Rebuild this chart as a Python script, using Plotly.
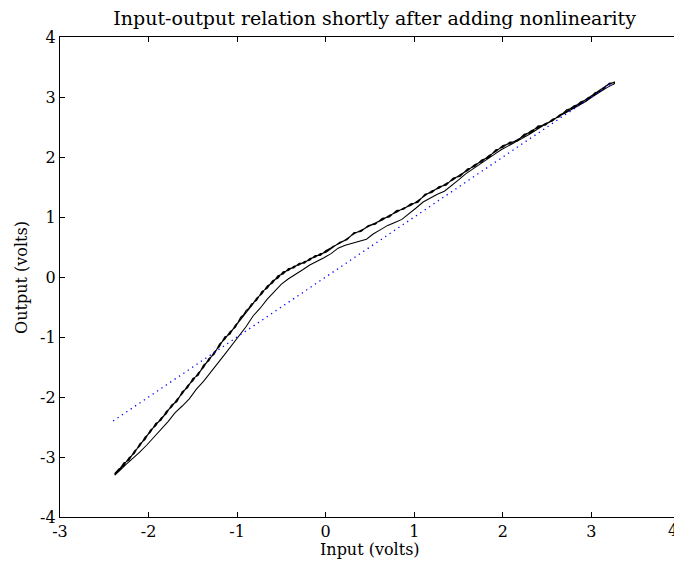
import plotly.graph_objects as go

# Upper branch (traversed several times, slightly different passes)
upper_x = [-2.38, -2.33, -2.28, -2.22, -2.16, -2.10, -2.04, -1.98, -1.92, -1.86, -1.80, -1.74, -1.68,
           -1.62, -1.56, -1.50, -1.44, -1.38, -1.32, -1.26, -1.20, -1.14, -1.08, -1.02, -0.96, -0.90,
           -0.84, -0.78, -0.72, -0.66, -0.60, -0.54, -0.48, -0.42, -0.36, -0.30, -0.24, -0.18, -0.12,
           -0.06, 0.00, 0.08, 0.16, 0.24, 0.32, 0.40, 0.48, 0.56, 0.64, 0.72, 0.80, 0.88, 0.96, 1.04,
           1.12, 1.20, 1.28, 1.36, 1.44, 1.52, 1.60, 1.68, 1.76, 1.84, 1.92, 2.00, 2.08, 2.16, 2.24,
           2.32, 2.40, 2.48, 2.56, 2.64, 2.72, 2.80, 2.88, 2.96, 3.04, 3.12, 3.20, 3.26]
upper_a_y = [-3.28, -3.22, -3.12, -3.03, -2.92, -2.80, -2.69, -2.57, -2.46, -2.38, -2.26, -2.15, -2.06,
             -1.93, -1.83, -1.71, -1.62, -1.49, -1.38, -1.27, -1.14, -1.02, -0.93, -0.82, -0.69, -0.58,
             -0.47, -0.37, -0.26, -0.17, -0.08, 0.00, 0.07, 0.12, 0.16, 0.21, 0.24, 0.29, 0.34,
             0.37, 0.42, 0.51, 0.56, 0.64, 0.72, 0.78, 0.84, 0.89, 0.96, 1.02, 1.09, 1.14, 1.20, 1.26,
             1.36, 1.43, 1.49, 1.55, 1.63, 1.70, 1.78, 1.86, 1.93, 2.01, 2.10, 2.18, 2.23, 2.28, 2.36,
             2.43, 2.50, 2.55, 2.61, 2.69, 2.77, 2.84, 2.90, 2.98, 3.05, 3.13, 3.22, 3.24]
upper_b_y = [-3.27, -3.19, -3.14, -3.01, -2.94, -2.78, -2.71, -2.55, -2.48, -2.35, -2.28, -2.13, -2.08,
             -1.91, -1.85, -1.69, -1.64, -1.47, -1.40, -1.25, -1.16, -1.00, -0.95, -0.80, -0.71, -0.56,
             -0.49, -0.35, -0.28, -0.15, -0.10, 0.02, 0.05, 0.14, 0.15, 0.23, 0.23, 0.31, 0.33,
             0.39, 0.41, 0.49, 0.58, 0.62, 0.74, 0.76, 0.86, 0.88, 0.98, 1.00, 1.11, 1.13, 1.22, 1.24,
             1.38, 1.41, 1.51, 1.53, 1.65, 1.68, 1.80, 1.84, 1.95, 1.99, 2.12, 2.16, 2.25, 2.26, 2.38,
             2.41, 2.52, 2.53, 2.63, 2.67, 2.79, 2.82, 2.92, 2.96, 3.07, 3.11, 3.23, 3.24]
upper_c_y = [-3.29, -3.21, -3.10, -3.05, -2.90, -2.82, -2.67, -2.59, -2.44, -2.39, -2.24, -2.17, -2.04,
             -1.95, -1.81, -1.73, -1.60, -1.51, -1.36, -1.29, -1.12, -1.04, -0.91, -0.84, -0.67, -0.60,
             -0.45, -0.39, -0.24, -0.19, -0.06, -0.02, 0.09, 0.11, 0.18, 0.20, 0.26, 0.28, 0.36,
             0.36, 0.44, 0.50, 0.57, 0.63, 0.73, 0.77, 0.85, 0.90, 0.95, 1.03, 1.08, 1.15, 1.19, 1.27,
             1.35, 1.44, 1.48, 1.56, 1.62, 1.71, 1.77, 1.87, 1.92, 2.02, 2.09, 2.19, 2.22, 2.29, 2.35,
             2.44, 2.49, 2.56, 2.60, 2.70, 2.76, 2.85, 2.89, 2.99, 3.04, 3.14, 3.21, 3.25]

# Lower branch (returning from the top)
lower_x = [3.26, 3.18, 3.10, 3.02, 2.94, 2.86, 2.78, 2.70, 2.62, 2.54, 2.46, 2.38, 2.30, 2.22, 2.14,
           2.06, 1.98, 1.90, 1.82, 1.74, 1.66, 1.58, 1.50, 1.42, 1.34, 1.26, 1.18, 1.10, 1.02, 0.94,
           0.86, 0.78, 0.70, 0.62, 0.54, 0.46, 0.38, 0.30, 0.22, 0.14, 0.06, -0.02, -0.10, -0.18,
           -0.26, -0.34, -0.42, -0.50, -0.58, -0.66, -0.74, -0.82, -0.90, -0.98, -1.06, -1.14, -1.22,
           -1.30, -1.38, -1.46, -1.54, -1.62, -1.70, -1.78, -1.86, -1.94, -2.02, -2.10, -2.18, -2.26,
           -2.32, -2.38]
lower_y = [3.22, 3.16, 3.09, 3.01, 2.93, 2.86, 2.80, 2.73, 2.67, 2.59, 2.53, 2.45, 2.38, 2.31, 2.25,
           2.18, 2.12, 2.04, 1.96, 1.87, 1.79, 1.72, 1.62, 1.53, 1.43, 1.38, 1.31, 1.25, 1.15, 1.06,
           0.96, 0.91, 0.86, 0.79, 0.72, 0.63, 0.60, 0.57, 0.53, 0.48, 0.39, 0.32, 0.26, 0.20,
           0.12, 0.05, -0.03, -0.12, -0.24, -0.37, -0.52, -0.65, -0.83, -0.98, -1.12, -1.29, -1.44,
           -1.60, -1.74, -1.87, -2.03, -2.15, -2.26, -2.41, -2.54, -2.68, -2.80, -2.92, -3.02, -3.13,
           -3.22, -3.30]

# Linear reference
ref_x = [-2.40, 3.25]
ref_y = [-2.40, 3.25]

x_ticks = [-3, -2, -1, 0, 1, 2, 3, 4]
y_ticks = [-4, -3, -2, -1, 0, 1, 2, 3, 4]

path_x = upper_x + lower_x + upper_x + upper_x[::-1]
path_y = upper_a_y + lower_y + upper_b_y + upper_c_y[::-1]

font = "DejaVu Serif"

fig = go.Figure()
fig.add_trace(go.Scatter(x=path_x, y=path_y, mode="lines",
                         line=dict(color="black", width=1.05),
                         showlegend=False, hoverinfo="skip"))
fig.add_trace(go.Scatter(x=ref_x, y=ref_y, mode="lines",
                         line=dict(color="#0000ff", width=1.3, dash="1.3px,4px"),
                         showlegend=False, hoverinfo="skip"))

axis_common = dict(showgrid=False, zeroline=False, showline=True, linecolor="black", linewidth=1.2,
                   mirror="ticks", ticks="inside", ticklen=5, tickcolor="black", tickwidth=1,
                   automargin=False,
                   tickfont=dict(family=font, size=16, color="black"))

# last x tick label sits at the window edge: draw it right-aligned so it stays visible
x_ticktext = [str(v) for v in x_ticks[:-1]] + [""]
edge_label = str(x_ticks[-1])

# page body has an 8px margin: figure is 674x553 so that it fills the 682x561 window
fig.update_layout(
    width=674, height=553,
    margin=dict(l=52, r=2, t=29, b=44, autoexpand=False),
    paper_bgcolor="white", plot_bgcolor="white",
    title=dict(text="Input-output relation shortly after adding nonlinearity",
               x=0.544, xanchor="center", y=0.981, yanchor="middle",
               font=dict(family=font, size=19, color="black")),
    xaxis=dict(range=[-3, 4], tickvals=x_ticks, ticktext=x_ticktext, **axis_common),
    yaxis=dict(range=[-4, 4], tickvals=y_ticks, ticktext=[str(v) for v in y_ticks], **axis_common),
    annotations=[
        dict(text=edge_label, xref="paper", yref="paper", x=0.998, y=-0.029,
             xanchor="right", yanchor="middle", showarrow=False, borderpad=0,
             font=dict(family=font, size=16, color="black")),
        dict(text="Input (volts)", xref="paper", yref="paper", x=0.5, y=-0.067,
             xanchor="center", yanchor="middle", showarrow=False,
             font=dict(family=font, size=16, color="black")),
        dict(text="Output (volts)", xref="paper", yref="paper", x=-0.063, y=0.5,
             xanchor="center", yanchor="middle", showarrow=False, textangle=-90,
             font=dict(family=font, size=16, color="black")),
    ],
)

fig.write_html("out.html")
